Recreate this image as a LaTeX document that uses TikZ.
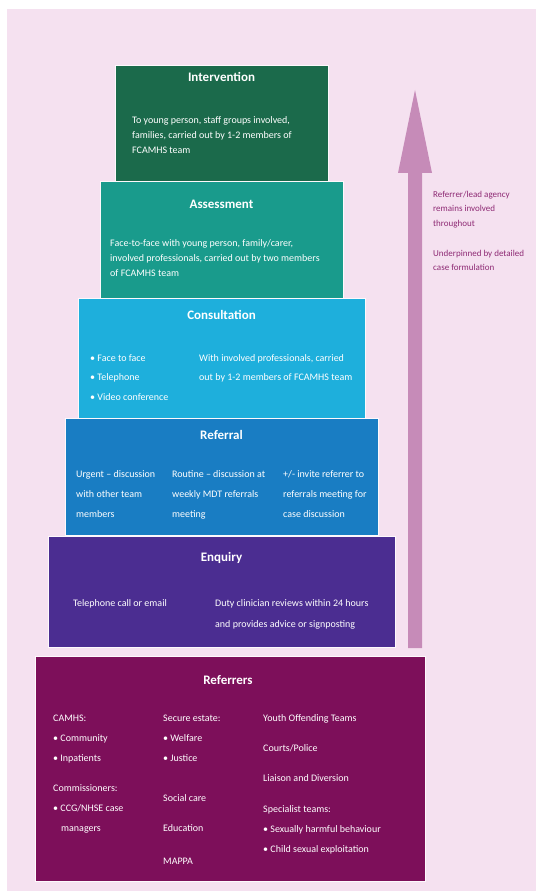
\documentclass[tikz,border=0pt]{standalone}
\usepackage{fontspec}
\setmainfont{Carlito}
\definecolor{bgpink}{RGB}{245,225,240}
\definecolor{cInt}{RGB}{27,106,75}
\definecolor{cAss}{RGB}{25,155,140}
\definecolor{cCon}{RGB}{30,175,220}
\definecolor{cRef}{RGB}{25,125,195}
\definecolor{cEnq}{RGB}{75,45,145}
\definecolor{cRfr}{RGB}{125,15,90}
\definecolor{cArrow}{RGB}{198,139,184}
\definecolor{cNote}{RGB}{142,42,116}
\tikzset{
  tier/.style={anchor=north west, draw=white!80!bgpink, line width=0.8pt, inner sep=0pt},
  ttl/.style={text=white, font=\bfseries\fontsize{13}{15}\selectfont, anchor=base},
  ln/.style={text=white, font=\fontsize{10}{12}\selectfont, anchor=base west, inner sep=0pt},
  note/.style={text=cNote, font=\fontsize{9}{11}\selectfont, anchor=base west, inner sep=0pt}
}
\begin{document}
\begin{tikzpicture}[x=1pt,y=-1pt]
\useasboundingbox (0,0) rectangle (536,893);
\fill[white] (0,0) rectangle (536,893);
\fill[bgpink] (7,9) rectangle (536,891);

% arrow
\fill[cArrow] (408,648) -- (408,173) -- (398,173) -- (415,90) -- (432,173) -- (422,173) -- (422,648) -- cycle;
\node[note] (n1) at (433,198) {Referrer/lead agency};
\node[note] (n2) at (433,212) {remains involved};
\node[note] (n3) at (433,226) {throughout};
\node[note] (n4) at (433,256) {Underpinned by detailed};
\node[note] (n5) at (433,270) {case formulation};

% tiers
\node[tier, fill=cInt, minimum width=213, minimum height=116] (interv) at (115,65) {};
\node[tier, fill=cAss, minimum width=243, minimum height=117] (assess) at (100,181) {};
\node[tier, fill=cCon, minimum width=287, minimum height=120] (consult) at (78,298) {};
\node[tier, fill=cRef, minimum width=313, minimum height=117] (referral) at (65,418) {};
\node[tier, fill=cEnq, minimum width=347, minimum height=111] (enquiry) at (48,536) {};
\node[tier, fill=cRfr, minimum width=390, minimum height=225] (referrers) at (35,656) {};

% Intervention
\node[ttl] (tInt) at (221.5,82) {Intervention};
\node[ln] (i1) at (132,124) {To young person, staff groups involved,};
\node[ln] (i2) at (132,139) {families, carried out by 1-2 members of};
\node[ln] (i3) at (132,154) {FCAMHS team};

% Assessment
\node[ttl] (tAss) at (221.5,209) {Assessment};
\node[ln] (a1) at (110,246) {Face-to-face with young person, family/carer,};
\node[ln] (a2) at (110,261) {involved professionals, carried out by two members};
\node[ln] (a3) at (110,276) {of FCAMHS team};

% Consultation
\node[ttl] (tCon) at (221.5,319) {Consultation};
\node[ln] (c1) at (90,361) {\textbullet\ Face to face};
\node[ln] (c2) at (90,380) {\textbullet\ Telephone};
\node[ln] (c3) at (90,400) {\textbullet\ Video conference};
\node[ln] (c4) at (199,361) {With involved professionals, carried};
\node[ln] (c5) at (199,380) {out by 1-2 members of FCAMHS team};

% Referral
\node[ttl] (tRef) at (221.5,439) {Referral};
\node[ln] (r1) at (76,477) {Urgent -- discussion};
\node[ln] (r2) at (76,497) {with other team};
\node[ln] (r3) at (76,517) {members};
\node[ln] (r4) at (172,477) {Routine -- discussion at};
\node[ln] (r5) at (172,497) {weekly MDT referrals};
\node[ln] (r6) at (172,517) {meeting};
\node[ln] (r7) at (283,477) {+/- invite referrer to};
\node[ln] (r8) at (283,497) {referrals meeting for};
\node[ln] (r9) at (283,517) {case discussion};

% Enquiry
\node[ttl] (tEnq) at (221.5,561) {Enquiry};
\node[ln] (e1) at (73,606) {Telephone call or email};
\node[ln] (e2) at (215,606) {Duty clinician reviews within 24 hours};
\node[ln] (e3) at (215,627) {and provides advice or signposting};

% Referrers
\node[ttl] (tRfr) at (228,684) {Referrers};
\node[ln] (f1) at (53,721) {CAMHS:};
\node[ln] (f2) at (53,741) {\textbullet\ Community};
\node[ln] (f3) at (53,761) {\textbullet\ Inpatients};
\node[ln] (f4) at (53,791) {Commissioners:};
\node[ln] (f5) at (53,811) {\textbullet\ CCG/NHSE case};
\node[ln] (f6) at (61,831) {managers};
\node[ln] (g1) at (163,721) {Secure estate:};
\node[ln] (g2) at (163,741) {\textbullet\ Welfare};
\node[ln] (g3) at (163,761) {\textbullet\ Justice};
\node[ln] (g4) at (163,801) {Social care};
\node[ln] (g5) at (163,831) {Education};
\node[ln] (g6) at (163,864) {MAPPA};
\node[ln] (h1) at (263,721) {Youth Offending Teams};
\node[ln] (h2) at (263,751) {Courts/Police};
\node[ln] (h3) at (263,781) {Liaison and Diversion};
\node[ln] (h4) at (263,812) {Specialist teams:};
\node[ln] (h5) at (263,832) {\textbullet\ Sexually harmful behaviour};
\node[ln] (h6) at (263,852) {\textbullet\ Child sexual exploitation};
\end{tikzpicture}
\end{document}
